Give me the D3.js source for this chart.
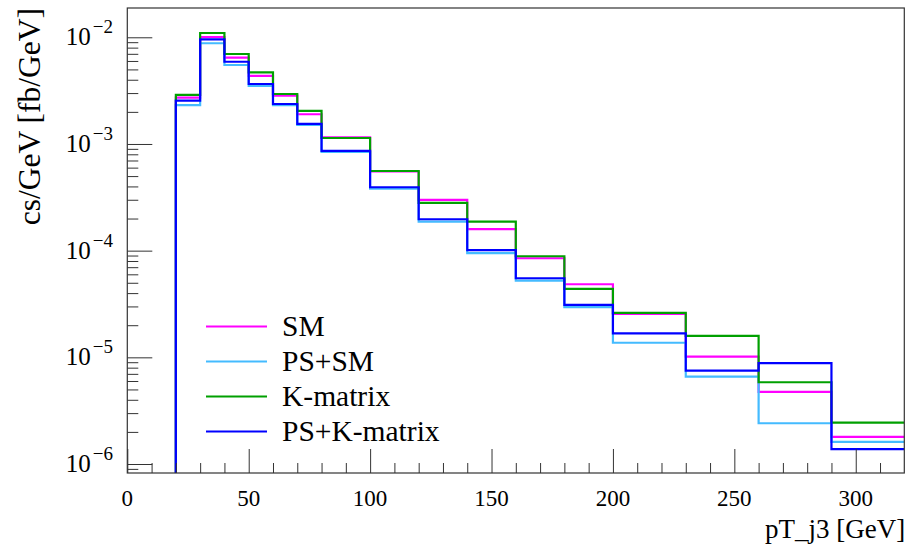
<!DOCTYPE html>
<html>
<head>
<meta charset="utf-8">
<script src="https://cdn.jsdelivr.net/npm/d3@7"></script>
<style>
  html, body { margin: 0; padding: 0; background: #fff; }
  svg { display: block; }
  text { font-family: "Liberation Serif", "DejaVu Serif", serif; fill: #000; }
</style>
</head>
<body>
<svg id="chart" width="911" height="549"></svg>
<script>
// ---- data ----
const binEdges = [20, 30, 40, 50, 60, 70, 80, 100, 120, 140, 160, 180, 200, 230, 260, 290, 320];
const seriesNames = ["SM", "PS+SM", "K-matrix", "PS+K-matrix"];
const seriesColors = ["#ff00ff", "#44bbff", "#00a000", "#0000ff"];
const smValues = [2.72e-3, 1.006e-2, 6.44e-3, 4.34e-3, 2.84e-3, 1.90e-3, 1.156e-3, 5.52e-4, 2.99e-4, 1.59e-4, 8.49e-5, 4.84e-5, 2.55e-5, 1.015e-5, 4.74e-6, 1.795e-6];
const psSmValues = [2.31e-3, 8.79e-3, 5.50e-3, 3.50e-3, 2.31e-3, 1.51e-3, 8.41e-4, 3.81e-4, 1.87e-4, 9.46e-5, 5.23e-5, 2.95e-5, 1.37e-5, 6.60e-6, 2.41e-6, 1.61e-6];
const kMatrixValues = [2.88e-3, 1.097e-2, 6.97e-3, 4.70e-3, 2.94e-3, 2.04e-3, 1.138e-3, 5.58e-4, 2.80e-4, 1.87e-4, 8.86e-5, 4.38e-5, 2.61e-5, 1.587e-5, 5.84e-6, 2.44e-6];
const psKMatrixValues = [2.55e-3, 9.58e-3, 5.90e-3, 3.65e-3, 2.37e-3, 1.54e-3, 8.60e-4, 3.93e-4, 1.97e-4, 1.01e-4, 5.51e-5, 3.10e-5, 1.68e-5, 7.51e-6, 8.81e-6, 1.38e-6];
const xMajorTicks = [0, 50, 100, 150, 200, 250, 300];
const yMajorExponents = [-2, -3, -4, -5, -6];
const xDomain = [0, 320];
const yDomain = [8.236e-7, 0.01882];

const allSeries = [smValues, psSmValues, kMatrixValues, psKMatrixValues];

(function () {
// ---- layout ----
const pLeft = 127.3, pRight = 904.3, pTop = 8, pBottom = 473;
const svg = d3.select("#chart");
const x = d3.scaleLinear().domain(xDomain).range([pLeft, pRight]);
const y = d3.scaleLog().domain(yDomain).range([pBottom, pTop]);

// clip
svg.append("defs").append("clipPath").attr("id", "clip")
  .append("rect").attr("x", pLeft).attr("y", pTop).attr("width", pRight - pLeft).attr("height", pBottom - pTop);

// histograms
const line = d3.line().x(d => x(d[0])).y(d => y(d[1])).curve(d3.curveStepAfter);
const gHist = svg.append("g").attr("clip-path", "url(#clip)");
allSeries.forEach((vals, i) => {
  const pts = [[binEdges[0], yDomain[0] * 0.5]];
  vals.forEach((v, j) => pts.push([binEdges[j], v]));
  pts.push([binEdges[binEdges.length - 1], vals[vals.length - 1]]);
  gHist.append("path").datum(pts)
    .attr("d", line)
    .attr("fill", "none")
    .attr("stroke", seriesColors[i])
    .attr("stroke-width", 2.2);
});

// axes
const axisColor = "#333";
const xMinor = d3.range(10, 320, 10).filter(v => v % 50 !== 0);
const gxm = svg.append("g").attr("transform", `translate(0,${pBottom})`)
  .call(d3.axisTop(x).tickValues(xMinor).tickSize(10).tickFormat(""));
const gx = svg.append("g").attr("transform", `translate(0,${pBottom})`)
  .call(d3.axisTop(x).tickValues(xMajorTicks).tickSize(24).tickFormat(""));
[gxm, gx].forEach(g => {
  g.select(".domain").remove();
  g.selectAll("line").attr("stroke", axisColor).attr("stroke-width", 1);
});
svg.append("g").selectAll("text").data(xMajorTicks).join("text")
  .attr("x", d => x(d)).attr("y", 506)
  .attr("text-anchor", "middle")
  .attr("font-size", 23)
  .text(d => d);

const yMinor = [];
for (let e = -7; e <= -2; e++) {
  for (let m = 2; m <= 9; m++) {
    const v = m * Math.pow(10, e);
    if (v >= yDomain[0] && v <= yDomain[1]) yMinor.push(v);
  }
}
const yMajor = yMajorExponents.map(e => Math.pow(10, e));
const gym = svg.append("g").attr("transform", `translate(${pLeft},0)`)
  .call(d3.axisRight(y).tickValues(yMinor).tickSize(11).tickFormat(""));
const gy = svg.append("g").attr("transform", `translate(${pLeft},0)`)
  .call(d3.axisRight(y).tickValues(yMajor).tickSize(25).tickFormat(""));
[gym, gy].forEach(g => {
  g.select(".domain").remove();
  g.selectAll("line").attr("stroke", axisColor).attr("stroke-width", 1);
});
const yl = svg.append("g").selectAll("text").data(yMajorExponents).join("text")
  .attr("x", 113).attr("y", d => y(Math.pow(10, d)) + 8)
  .attr("text-anchor", "end");
yl.append("tspan").attr("font-size", 25).text("10");
yl.append("tspan").attr("font-size", 19).attr("dy", -12).attr("dx", 2)
  .text(d => "\u2212" + Math.abs(d));

// frame
svg.append("rect").attr("x", pLeft).attr("y", pTop)
  .attr("width", pRight - pLeft).attr("height", pBottom - pTop)
  .attr("fill", "none").attr("stroke", axisColor).attr("stroke-width", 1.2);

// axis titles
svg.append("text").attr("x", pRight + 1).attr("y", 538)
  .attr("text-anchor", "end").attr("font-size", 27)
  .text("pT_j3 [GeV]");
svg.append("text")
  .attr("transform", `translate(40,8) rotate(-90)`)
  .attr("text-anchor", "end").attr("font-size", 31.5)
  .text("cs/GeV [fb/GeV]");

// legend
const legendRows = [326.5, 361.5, 396.5, 431.5];
const lg = svg.append("g");
seriesNames.forEach((name, i) => {
  lg.append("line").attr("x1", 206).attr("x2", 267)
    .attr("y1", legendRows[i]).attr("y2", legendRows[i])
    .attr("stroke", seriesColors[i]).attr("stroke-width", 2.2);
  lg.append("text").attr("x", 282).attr("y", legendRows[i] + 9.5)
    .attr("font-size", 29.5).text(name);
});
})();
</script>
</body>
</html>
